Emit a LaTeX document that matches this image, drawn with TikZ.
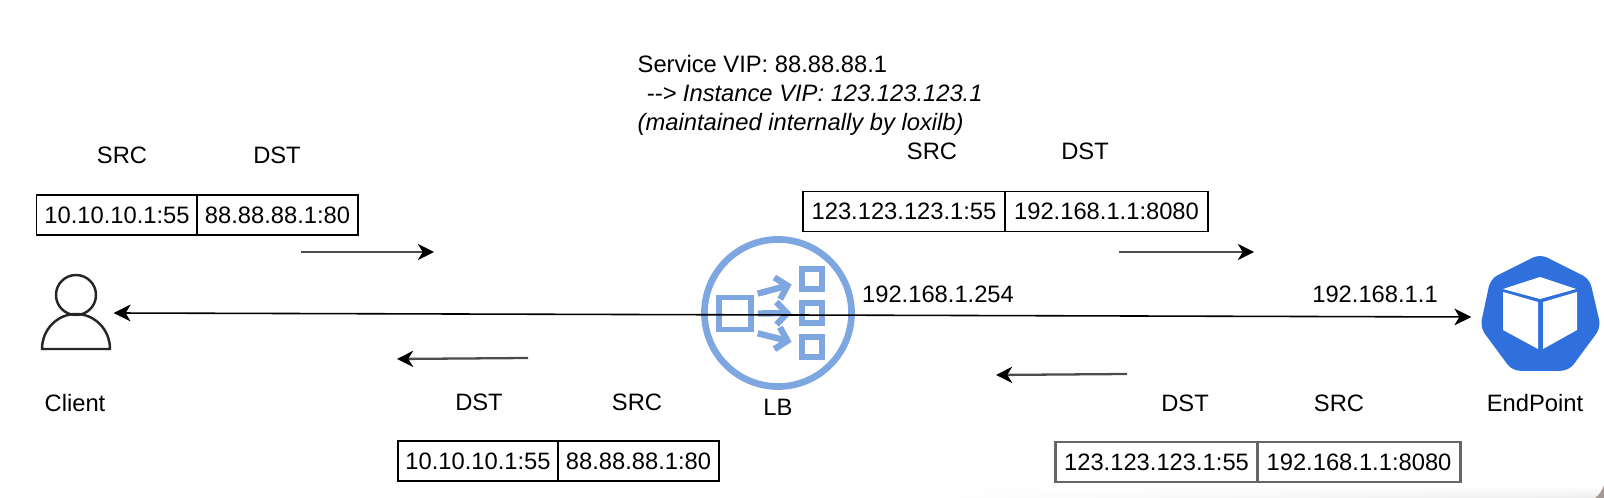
\documentclass[tikz,border=0pt]{standalone}
\usepackage{fontspec}
\setmainfont{Liberation Sans}
\usetikzlibrary{arrows.meta,fadings}
\definecolor{lbblue}{HTML}{7EA6E0}
\definecolor{epblue}{HTML}{2F70DC}
\definecolor{cornergrey}{HTML}{A39A96}
\tikzset{
  label/.style={inner sep=0pt,font=\fontsize{6.75}{8.25}\selectfont},
  field/.style={label,draw,line width=0.45pt,minimum height=0.4cm},
  shortfield/.style={field,minimum width=1.605cm},
  longfield/.style={field,minimum width=2.025cm},
  heavyfield/.style={longfield,draw=black!60,line width=0.75pt},
  flow/.style={draw=black!70,line width=0.65pt,-{Stealth[length=4.6pt,width=4.6pt,inset=1.4pt,black]}},
  wire/.style={line width=0.45pt,{Stealth[length=4.8pt,width=4.8pt,inset=1.4pt]}-{Stealth[length=4.8pt,width=4.8pt,inset=1.4pt]}},
  hub/.style={draw=lbblue,line width=1.6pt,minimum size=0.32cm,inner sep=0pt},
  leaf/.style={draw=lbblue,line width=1.5pt,minimum size=0.2cm,inner sep=0pt},
  fan/.style={draw=lbblue,line width=1.8pt,-{Straight Barb[length=3pt,width=6.4pt]},shorten <=0.04cm,shorten >=0.08cm}
}
\begin{document}
\begin{tikzpicture}[x=0.01cm,y=-0.01cm]
  \useasboundingbox (0,0) rectangle (1604,498);
  % screenshot edge
  \shade[top color=white,bottom color=black!7,path fading=west] (900,486) rectangle (1604,498);
  \fill[cornergrey] (1604,485) .. controls (1602,491) and (1599,495) .. (1595,498) -- (1604,498) -- cycle;
  % service note
  \node[label,align=left,anchor=west] (note) at (637,95)
    {Service VIP: 88.88.88.1\\
     \hspace*{0.09cm}\textit{-{}-> Instance VIP: 123.123.123.1}\\
     \textit{(maintained internally by loxilb)}};
  % client
  \node[inner sep=0pt,minimum width=0.71cm,minimum height=0.75cm] (client) at (77.5,313) {};
  \draw[line width=0.7pt,draw=black!85] (76,295) circle (20);
  \draw[line width=0.7pt,draw=black!85,line join=round]
    (42,349) arc[start angle=180,end angle=360,x radius=34,y radius=35] -- cycle;
  \node[label] (clientlabel) at (75,403) {Client};
  % load balancer
  \node[draw=lbblue,line width=1.9pt,circle,minimum size=1.47cm,inner sep=0pt] (lb) at (778,313) {};
  \node[hub] (lbin) at (735,313.5) {};
  \node[leaf] (lbt) at (812,279) {};
  \node[leaf] (lbm) at (812,313) {};
  \node[leaf] (lbb) at (812,347) {};
  \draw[fan] (lbin.north east) -- (lbt);
  \draw[fan] (lbin.east) -- (lbm);
  \draw[fan] (lbin.south east) -- (lbb);
  \node[label] (lblabel) at (778,407) {LB};
  % endpoint
  \node[inner sep=0pt,minimum width=1.36cm,minimum height=1.14cm] (endpoint) at (1540,317) {};
  \fill[epblue,draw=epblue,line width=1pt,line join=round,rounded corners=2pt]
    (1540,256) -- (1588,280) -- (1599,327) -- (1568,369) -- (1513,369) -- (1482,327) -- (1492,280) -- cycle;
  \fill[white] (1540,277) -- (1576,289) -- (1540,299) -- (1503,289) -- cycle;
  \fill[white] (1503,292) -- (1538,302) -- (1538,349) -- (1503,330) -- cycle;
  \fill[white] (1543,302) -- (1577,292) -- (1577,330) -- (1543,349) -- cycle;
  \node[label] (eplabel) at (1535,403) {EndPoint};
  % main link
  \draw[wire] (client.east) -- (endpoint.west);
  \node[label] (lbip) at (938,294) {192.168.1.254};
  \node[label] (epip) at (1375,294) {192.168.1.1};
  % client to lb
  \node[label] (src1) at (122,155) {SRC};
  \node[label] (dst1) at (277,155) {DST};
  \node[shortfield] (f1a) at (117,215) {10.10.10.1:55};
  \node[shortfield] (f1b) at (277.5,215) {88.88.88.1:80};
  \coordinate (a1s) at (301,252);
  \coordinate (a1e) at (434,252);
  \draw[flow] (a1s) -- (a1e);
  % lb to endpoint
  \node[label] (src2) at (932,151) {SRC};
  \node[label] (dst2) at (1085,151) {DST};
  \node[longfield] (f2a) at (904,211.5) {123.123.123.1:55};
  \node[longfield] (f2b) at (1106.5,211.5) {192.168.1.1:8080};
  \coordinate (a2s) at (1119,252);
  \coordinate (a2e) at (1254,252);
  \draw[flow] (a2s) -- (a2e);
  % lb to client
  \node[label] (dst3) at (479,402) {DST};
  \node[label] (src3) at (637,402) {SRC};
  \node[shortfield] (f3a) at (478,461) {10.10.10.1:55};
  \node[shortfield] (f3b) at (638.5,461) {88.88.88.1:80};
  \coordinate (a3s) at (528,358);
  \coordinate (a3e) at (397,359);
  \draw[flow] (a3s) -- (a3e);
  % endpoint to lb
  \node[label] (dst4) at (1185,403) {DST};
  \node[label] (src4) at (1339,403) {SRC};
  \node[heavyfield] (f4a) at (1156.5,462) {123.123.123.1:55};
  \node[heavyfield] (f4b) at (1359,462) {192.168.1.1:8080};
  \coordinate (a4s) at (1127,374);
  \coordinate (a4e) at (996,375);
  \draw[flow] (a4s) -- (a4e);
\end{tikzpicture}
\end{document}
